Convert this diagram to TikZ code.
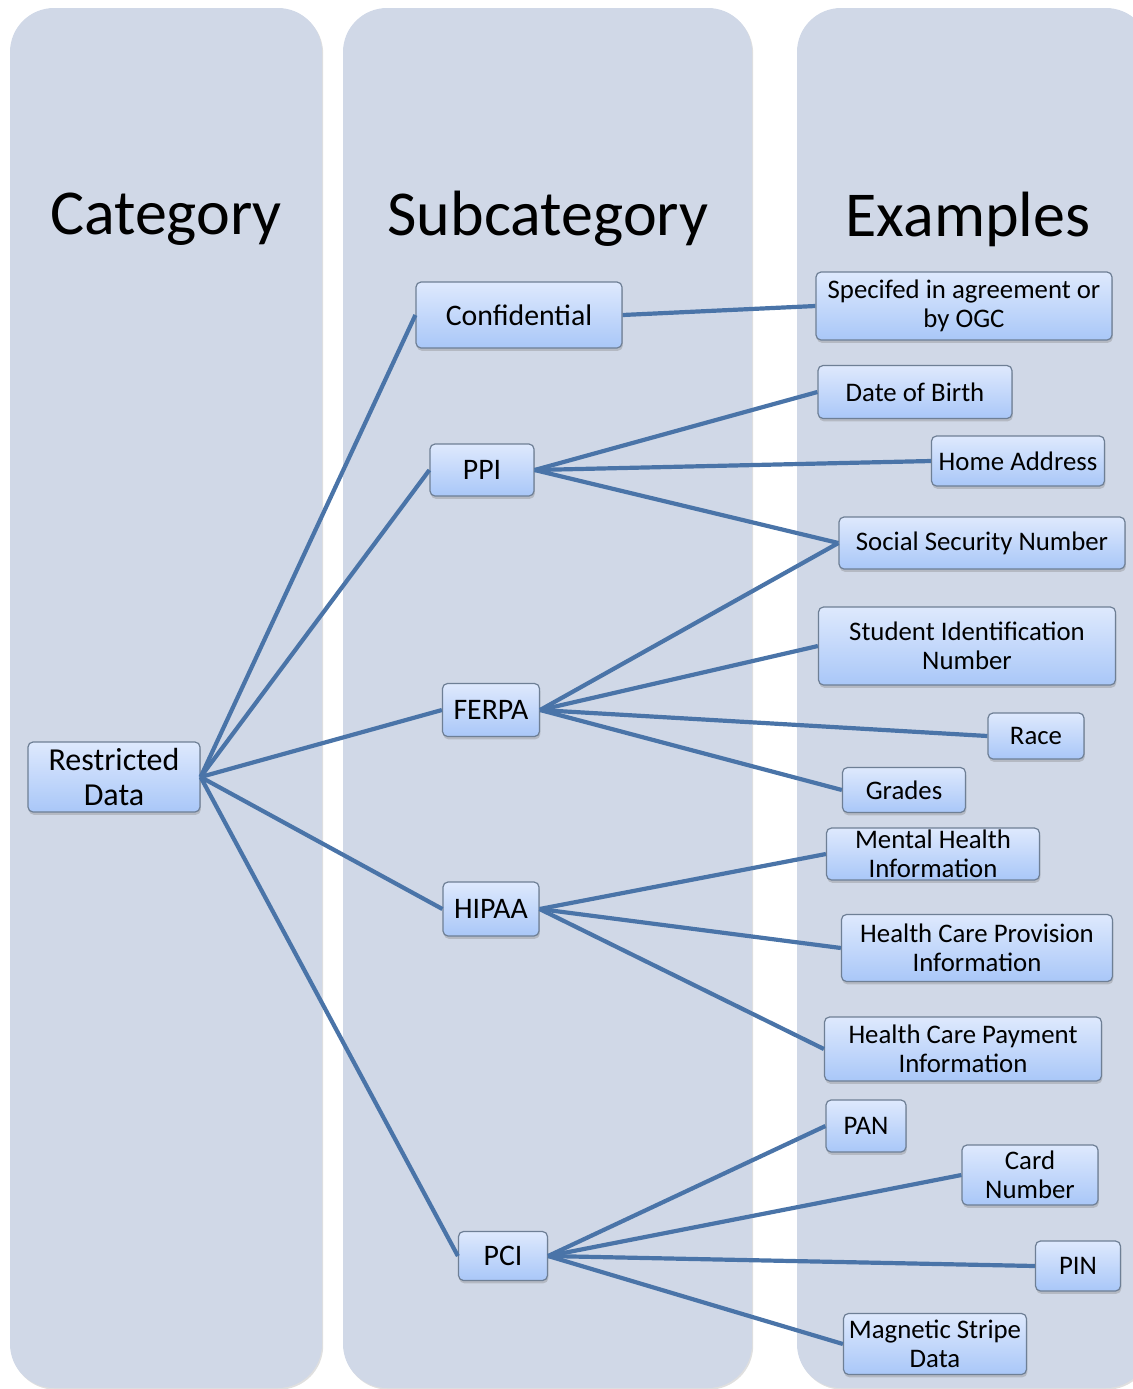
\documentclass[tikz,border=0pt]{standalone}
\usepackage{fontspec}
\setmainfont{Carlito}
\usepackage{xcolor}
\usetikzlibrary{shadows}

\definecolor{colfill}{HTML}{D0D8E7}
\definecolor{linkblue}{HTML}{4A74A8}
\definecolor{boxtop}{HTML}{DEE9FD}
\definecolor{boxbot}{HTML}{A9C7F8}
\definecolor{boxline}{HTML}{6E7F95}

\begin{document}
\begin{tikzpicture}[x=0.5pt,y=-0.5pt,
    column/.style={fill=colfill, rounded corners=22pt,
        drop shadow={shadow xshift=0.6pt, shadow yshift=-0.8pt, opacity=0.25}},
    header/.style={font=\fontsize{32}{38}\selectfont},
    item/.style={draw=boxline, line width=0.6pt, rounded corners=2.5pt,
        top color=boxtop, bottom color=boxbot, align=center, inner sep=0pt,
        font=\fontsize{13.4}{14.6}\selectfont,
        drop shadow={shadow xshift=0.4pt, shadow yshift=-1.4pt, opacity=0.35}},
    subitem/.style={item, font=\fontsize{14.9}{16.5}\selectfont},
    catitem/.style={item, font=\fontsize{16}{17.5}\selectfont},
    sz/.style 2 args={minimum width=#1*0.5pt, minimum height=#2*0.5pt},
    link/.style={draw=linkblue, line width=2.1pt}]

\useasboundingbox (0,0) rectangle (1133,1389);

%------------------------------------------------
% Columns
%------------------------------------------------

\fill[column] (10,8) rectangle (322,1388);
\fill[column] (343,8) rectangle (752,1388);
\fill[column] (797,8) rectangle (1150,1388);

%------------------------------------------------
% Column headers
%------------------------------------------------

\node[header] (hcat) at (166,219) {Category};
\node[header] (hsub) at (548,219) {Subcategory};
\node[header] (hex)  at (968,219) {Examples};

%------------------------------------------------
% Category
%------------------------------------------------

\node[catitem, sz={172}{70}] (restricted) at (114,777) {Restricted\\Data};

%------------------------------------------------
% Subcategories
%------------------------------------------------

\node[subitem, sz={206}{66}] (confidential) at (519,315) {Confidential};
\node[subitem, sz={104}{52}] (ppi)   at (482,470)  {PPI};
\node[subitem, sz={97}{53}]  (ferpa) at (491,710)  {FERPA};
\node[subitem, sz={96}{54}]  (hipaa) at (491,909)  {HIPAA};
\node[subitem, sz={89}{49}]  (pci)   at (503,1256) {PCI};

%------------------------------------------------
% Examples
%------------------------------------------------

\node[item, sz={296}{68}] (ogc)      at (964,306)  {Specifed in agreement or\\by OGC};
\node[item, sz={194}{53}] (birth)    at (915,392)  {Date of Birth};
\node[item, sz={173}{50}] (address)  at (1018,461) {Home Address};
\node[item, sz={286}{52}] (ssn)      at (982,543)  {Social Security Number};
\node[item, sz={297}{78}] (studentid) at (967,646) {Student Identification\\Number};
\node[item, sz={96}{46}]  (race)     at (1036,736) {Race};
\node[item, sz={123}{45}] (grades)   at (904,790)  {Grades};
\node[item, sz={213}{52}] (mental)   at (933,854)  {Mental Health\\Information};
\node[item, sz={271}{67}] (provision) at (977,948) {Health Care Provision\\Information};
\node[item, sz={277}{64}] (payment)  at (963,1049) {Health Care Payment\\Information};
\node[item, sz={80}{52}]  (pan)      at (866,1126) {PAN};
\node[item, sz={136}{60}] (card)     at (1030,1175) {Card\\Number};
\node[item, sz={85}{50}]  (pin)      at (1078,1266) {PIN};
\node[item, sz={183}{61}] (stripe)   at (935,1344) {Magnetic Stripe\\Data};

%------------------------------------------------
% Links
%------------------------------------------------

\foreach \sub in {confidential,ppi,ferpa,hipaa,pci}
  \draw[link] (restricted.east) -- (\sub.west);

\draw[link] (confidential.east) -- (ogc.west);

\foreach \ex in {birth,address,ssn}
  \draw[link] (ppi.east) -- (\ex.west);

\foreach \ex in {ssn,studentid,race,grades}
  \draw[link] (ferpa.east) -- (\ex.west);

\foreach \ex in {mental,provision,payment}
  \draw[link] (hipaa.east) -- (\ex.west);

\foreach \ex in {pan,card,pin,stripe}
  \draw[link] (pci.east) -- (\ex.west);

\end{tikzpicture}
\end{document}
